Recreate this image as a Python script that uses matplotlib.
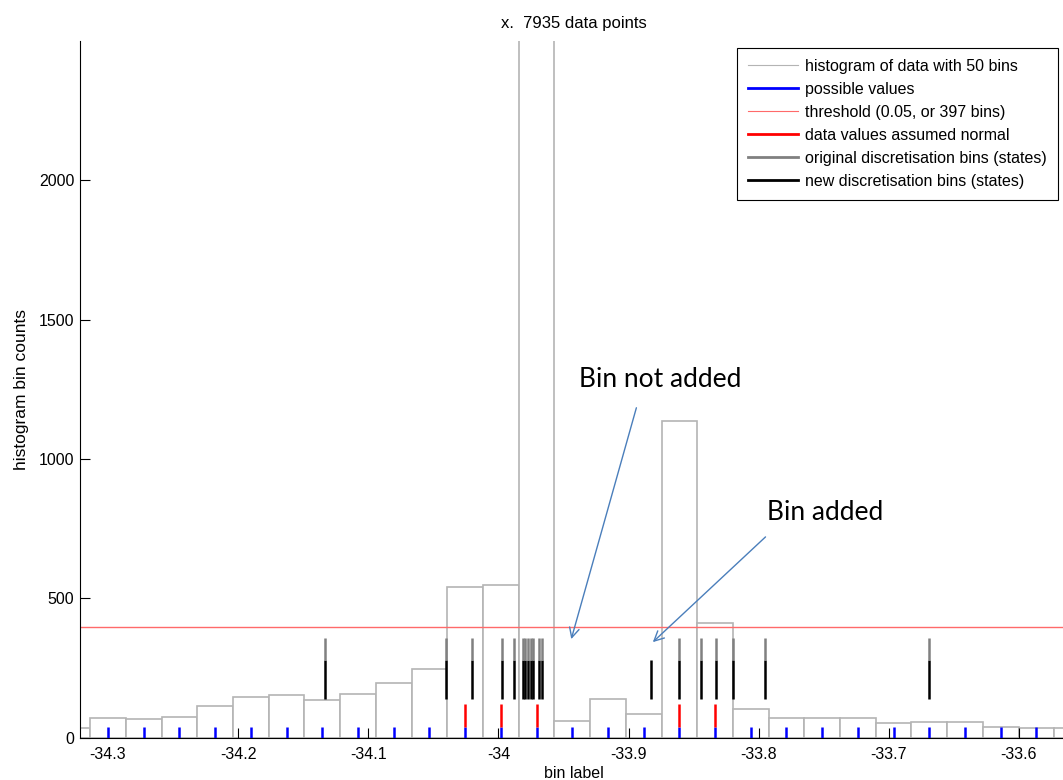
import numpy as np
import matplotlib.pyplot as plt
from matplotlib.lines import Line2D

plt.rcParams['font.family'] = ['Liberation Sans', 'DejaVu Sans']

N_POINTS = 7935
THRESHOLD = 397

# histogram counts (bins left to right, partly off-screen at the ends)
bin_counts = [34, 72, 67, 75, 113, 145, 154, 136, 158, 195, 245, 540, 549, 2850,
              61, 140, 84, 1137, 410, 104, 72, 72, 72, 52, 57, 57, 39, 34, 34]
first_center = -34.32744
bin_width = 0.02744

# data values assumed normal (bins above the threshold)
normal_values = [-34.0256, -33.9982, -33.9707, -33.8610, -33.8335]

# discretisation bins (states)
original_bins = [-34.1334, -34.0399, -34.0202, -33.9974, -33.9884, -33.9809, -33.9792,
                 -33.9771, -33.9751, -33.9734, -33.9686, -33.9665, -33.8611, -33.8444,
                 -33.8327, -33.8201, -33.7950, -33.6690]
added_bins = [-33.8829]

xtick_values = [-34.3, -34.2, -34.1, -34.0, -33.9, -33.8, -33.7, -33.6]
xtick_labels = ['-34.3', '-34.2', '-34.1', '-34', '-33.9', '-33.8', '-33.7', '-33.6']
ytick_values = [0, 500, 1000, 1500, 2000]

centers = first_center + bin_width * np.arange(len(bin_counts))
new_bins = sorted(original_bins + added_bins)

fig = plt.figure(figsize=(10.63, 7.8), dpi=100)
ax = fig.add_axes([80 / 1063, 42.3 / 780, 987 / 1063, 697 / 780])

ax.bar(centers, bin_counts, width=bin_width, facecolor='white', edgecolor='#b4b4b4',
       linewidth=1.2, zorder=1)
ax.axhline(THRESHOLD, color='#ff6a6a', lw=1.0, zorder=2)
ax.vlines(centers, 0, 0.1 * THRESHOLD, color='blue', lw=1.8, zorder=3)
ax.vlines(normal_values, 0.1 * THRESHOLD, 0.3 * THRESHOLD, color='red', lw=1.8, zorder=3)
ax.vlines(new_bins, 0.35 * THRESHOLD, 0.7 * THRESHOLD, color='black', lw=1.8, zorder=3)
ax.vlines(original_bins, 0.7 * THRESHOLD, 0.9 * THRESHOLD, color='#808080', lw=1.8, zorder=3)

ax.set_xlim(-34.3215, -33.5631)
ax.set_ylim(0, 2500)
ax.set_xticks(xtick_values)
ax.set_xticklabels(xtick_labels)
ax.set_yticks(ytick_values)
ax.tick_params(direction='in', length=7, width=0.8, labelsize=11.5, colors='black')
ax.tick_params(axis='x', pad=6.5)
ax.tick_params(axis='y', pad=4)
for side in ['top', 'right']:
    ax.spines[side].set_visible(False)
for side in ['left', 'bottom']:
    ax.spines[side].set_linewidth(0.8)

ax.set_title('x.  %d data points' % N_POINTS, fontsize=12, pad=9)
ax.set_xlabel('bin label', fontsize=11.5, labelpad=3)
ax.set_ylabel('histogram bin counts', fontsize=12.5, labelpad=7.5)

handles = [
    Line2D([], [], color='#b4b4b4', lw=0.8),
    Line2D([], [], color='blue', lw=2),
    Line2D([], [], color='#ff6a6a', lw=0.8),
    Line2D([], [], color='red', lw=2),
    Line2D([], [], color='#808080', lw=2),
    Line2D([], [], color='black', lw=2),
]
labels = ['histogram of data with 50 bins', 'possible values', 'threshold (0.05, or 397 bins)',
          'data values assumed normal', 'original discretisation bins (states)',
          'new discretisation bins (states)']
leg = ax.legend(handles, labels, loc='upper right', bbox_to_anchor=(0.991, 0.99),
                borderaxespad=0, fontsize=11.5, handlelength=3.1, handletextpad=0.45,
                labelspacing=0.5, borderpad=0.7, fancybox=False, framealpha=1)
leg.get_frame().set_edgecolor('black')
leg.get_frame().set_linewidth(0.8)

# call-outs added on top of the figure
arrow = dict(arrowstyle='->,head_length=0.7,head_width=0.35', color='#4a7ebb', lw=1)
ax.text(-33.938, 1259, 'Bin not added', family=['Lato', 'DejaVu Sans'], fontsize=19)
ax.annotate('', xy=(-33.9446, 344), xytext=(-33.8934, 1193), arrowprops=arrow)
ax.text(-33.7939, 781, 'Bin added', family=['Lato', 'DejaVu Sans'], fontsize=19)
ax.annotate('', xy=(-33.8829, 336), xytext=(-33.7932, 727), arrowprops=arrow)

fig.savefig('out.png', dpi=100)
